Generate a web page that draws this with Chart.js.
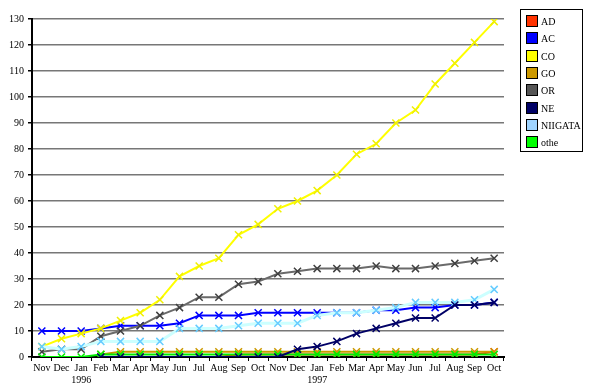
<!DOCTYPE html>
<html>
<head>
<meta charset="utf-8">
<script src="https://cdn.jsdelivr.net/npm/chart.js@4"></script>
<style>
  body { margin: 0; background: #fff; }
</style>
</head>
<body>
<canvas id="growthChartCanvas" width="593" height="387"></canvas>
<script>
const growthChartCanvas = document.getElementById("growthChartCanvas");

// months Nov 1995 .. Oct 1997
const months = ['Nov', 'Dec', ['Jan', '1996'], 'Feb', 'Mar', 'Apr', 'May', 'Jun', 'Jul', 'Aug', 'Sep', 'Oct',
                'Nov', 'Dec', ['Jan', '1997'], 'Feb', 'Mar', 'Apr', 'May', 'Jun', 'Jul', 'Aug', 'Sep', 'Oct'];

const seriesNames = ['AD', 'AC', 'CO', 'GO', 'OR', 'NE', 'NIIGATA', 'othe'];

const adValues      = [null, null, null, 0, 0, 0, 0, 0, 0, 0, 1, 1, 1, 1, 1, 1, 1, 1, 1, 1, 1, 1, 1, 2];
const acValues      = [10, 10, 10, 11, 12, 12, 12, 13, 16, 16, 16, 17, 17, 17, 17, 17, 17, 18, 18, 19, 19, 20, 20, 21];
const coValues      = [4, 7, 9, 11, 14, 17, 22, 31, 35, 38, 47, 51, 57, 60, 64, 70, 78, 82, 90, 95, 105, 113, 121, 129];
const goValues      = [null, null, null, 1, 2, 2, 2, 2, 2, 2, 2, 2, 2, 2, 2, 2, 2, 2, 2, 2, 2, 2, 2, 2];
const orValues      = [2, 3, 3, 8, 10, 12, 16, 19, 23, 23, 28, 29, 32, 33, 34, 34, 34, 35, 34, 34, 35, 36, 37, 38];
const neValues      = [null, null, null, 0, 0, 0, 0, 0, 0, 0, 0, 0, 0, 3, 4, 6, 9, 11, 13, 15, 15, 20, 20, 21];
const niigataValues = [4, 3, 4, 6, 6, 6, 6, 11, 11, 11, 12, 13, 13, 13, 16, 17, 17, 18, 19, 21, 21, 21, 22, 26];
const otheValues    = [0, 0, 0, 1, 1, 1, 1, 1, 1, 1, 1, 1, 1, 1, 1, 1, 1, 1, 1, 1, 1, 1, 1, 1];

const yTicks = [0, 10, 20, 30, 40, 50, 60, 70, 80, 90, 100, 110, 120, 130];

const serifFont = 'Liberation Serif';

function lineSeries(label, data, lineColor, markColor, swatch, order, width) {
    return {
        label: label,
        data: data,
        borderColor: lineColor,
        backgroundColor: lineColor,
        borderWidth: width || 2,
        tension: 0,
        pointStyle: 'crossRot',
        pointRadius: 5,
        pointBorderWidth: 1.5,
        pointBorderColor: markColor,
        swatch: swatch,
        order: order
    };
}

const growthChartData = {
    labels: months,
    datasets: [
        lineSeries(seriesNames[0], adValues, '#FF3300', '#FF3300', '#FF3300', 9),
        lineSeries(seriesNames[1], acValues, '#0000FF', '#0000FF', '#0000FF', 6),
        lineSeries(seriesNames[2], coValues, '#FFFF00', '#F0F000', '#FFFF00', 4),
        lineSeries(seriesNames[3], goValues, '#CC9900', '#CC9900', '#CC9900', 8),
        lineSeries(seriesNames[4], orValues, '#6a6a6a', '#404040', '#555555', 5),
        lineSeries(seriesNames[5], neValues, '#000066', '#000066', '#000066', 1),
        lineSeries(seriesNames[6], niigataValues, '#CCFFFF', '#66CCFF', '#9FD4FF', 3, 3),
        lineSeries(seriesNames[7], otheValues, '#00EE00', '#00EE00', '#00FF00', 2)
    ]
};

// legend box at the top right, drawn by hand
const boxLegend = {
    id: 'boxLegend',
    afterDraw(chart) {
        const ctx = chart.ctx;
        ctx.save();
        ctx.strokeStyle = '#000';
        ctx.lineWidth = 1;
        ctx.strokeRect(520.5, 9.5, 62, 142);
        ctx.font = '10px "' + serifFont + '"';
        ctx.textBaseline = 'middle';
        ctx.textAlign = 'left';
        chart.data.datasets.forEach((ds, i) => {
            const y = Math.round(21 + i * 17.3);
            ctx.fillStyle = ds.swatch;
            ctx.fillRect(526, y - 6, 12, 12);
            ctx.strokeStyle = '#000';
            ctx.strokeRect(526.5, y - 5.5, 11, 11);
            ctx.fillStyle = '#000';
            ctx.fillText(ds.label, 541, y + 1);
        });
        ctx.restore();
    }
};

const growthChart = new Chart(growthChartCanvas, {
    type: 'line',
    data: growthChartData,
    options: {
        responsive: false,
        animation: false,
        layout: {
            padding: { top: 19, right: 89, left: 0, bottom: 0 }
        },
        plugins: {
            legend: { display: false },
            tooltip: { enabled: false }
        },
        scales: {
            x: {
                offset: true,
                afterFit(scale) { scale.height = 30; },
                ticks: {
                    autoSkip: false,
                    maxRotation: 0,
                    color: '#000',
                    padding: 1,
                    font: { family: serifFont, size: 10, lineHeight: 1.25 }
                },
                grid: {
                    offset: true,
                    drawOnChartArea: false,
                    drawTicks: true,
                    tickLength: 4,
                    tickColor: '#000'
                },
                border: { color: '#000', width: 2 }
            },
            y: {
                min: 0,
                max: 130,
                afterFit(scale) { scale.width = 32; },
                afterBuildTicks(scale) {
                    scale.ticks = yTicks.map(v => ({ value: v }));
                },
                ticks: {
                    color: '#000',
                    padding: 4,
                    font: { family: serifFont, size: 10 }
                },
                grid: {
                    color: '#777',
                    lineWidth: 1.5,
                    tickColor: '#000',
                    tickLength: 4
                },
                border: { color: '#000', width: 2 }
            }
        }
    },
    plugins: [boxLegend]
});
</script>
</body>
</html>
